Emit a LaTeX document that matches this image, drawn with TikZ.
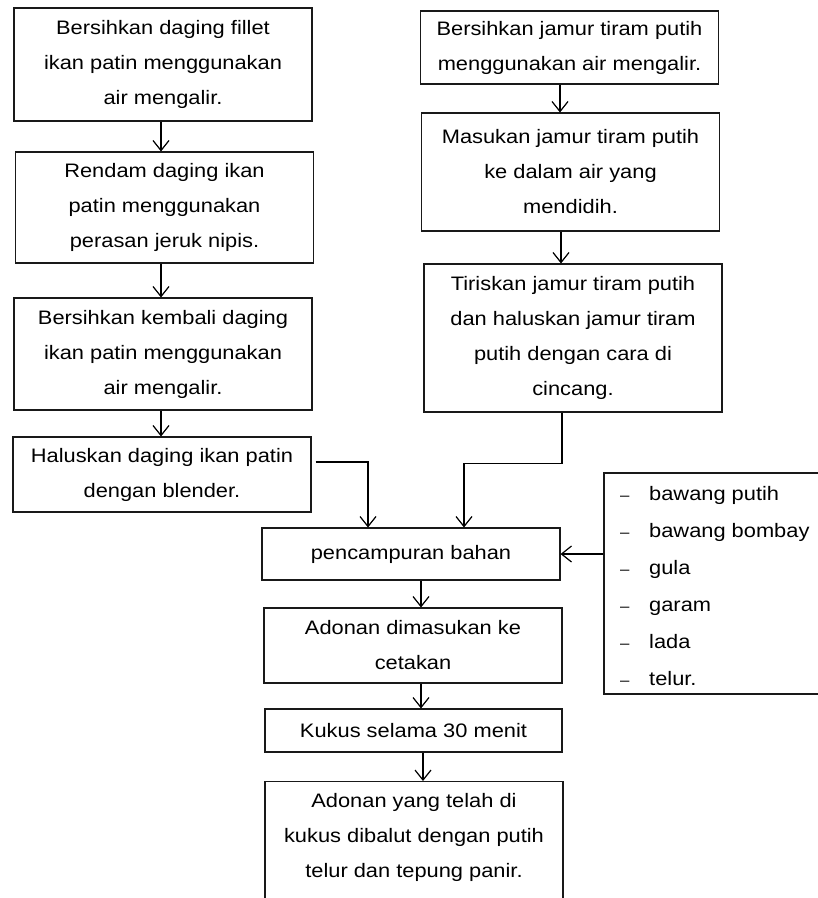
\documentclass[tikz,border=0pt]{standalone}
\usepackage{fontspec}
\setmainfont[FakeStretch=1.12]{Liberation Sans}
\usetikzlibrary{arrows.meta}
\begin{document}
\begin{tikzpicture}[x=1pt,y=-1pt,
  box/.style={draw=black!90, line width=1.1pt, inner sep=0pt, align=center,
    font=\fontsize{19.5}{35}\selectfont, minimum width=298pt},
  txt/.style={inner sep=0pt, align=center, font=\fontsize{19.5}{35}\selectfont},
  listtxt/.style={inner sep=0pt, align=left, font=\fontsize{19.5}{37}\selectfont},
  arr/.style={-{Straight Barb[length=10pt,width=16pt]}, line width=1.2pt},
  ln/.style={line width=1.2pt}]
\useasboundingbox (0,0) rectangle (818,898);
\clip (0,0) rectangle (818,898);

% left column
\node[box, minimum height=113pt] (L1) at (163,64.5) {Bersihkan daging fillet\\ikan patin menggunakan\\air mengalir.};
\node[box, minimum height=111pt] (L2) at (164.5,207.5) {Rendam daging ikan\\patin menggunakan\\perasan jeruk nipis.};
\node[box, minimum height=112pt] (L3) at (163,354) {Bersihkan kembali daging\\ikan patin menggunakan\\air mengalir.};
\node[box, minimum height=75pt] (L4) at (162,474.5) {Haluskan daging ikan patin\\dengan blender.};

% right column
\node[box, minimum height=73pt] (R1) at (569.5,47.5) {Bersihkan jamur tiram putih\\menggunakan air mengalir.};
\node[box, minimum height=118pt] (R2) at (570.5,172) {Masukan jamur tiram putih\\ke dalam air yang\\mendidih.};
\node[box, minimum height=148pt] (R3) at (573,338) {Tiriskan jamur tiram putih\\dan haluskan jamur tiram\\putih dengan cara di\\cincang.};

% centre column
\node[box, minimum height=52pt] (P) at (411,554) {pencampuran bahan};
\node[box, minimum height=75pt] (A) at (413,645.5) {Adonan dimasukan ke\\cetakan};
\node[box, minimum height=43pt, minimum width=297pt] (K) at (413.5,730.5) {Kukus selama 30 menit};
\node[box, minimum height=130pt, anchor=north] (F) at (414,781) {};
\node[txt] (Ftext) at (414,837) {Adonan yang telah di\\kukus dibalut dengan putih\\telur dan tepung panir.};

% ingredient list
\node[draw=black!90, line width=1.1pt, minimum width=226pt, minimum height=221pt, inner sep=0pt] (LB) at (717,583.5) {};
\node[listtxt, anchor=west] (items) at (620,586.5) {%
\makebox[29pt][l]{\fontsize{15}{37}\selectfont –}bawang putih\\
\makebox[29pt][l]{\fontsize{15}{37}\selectfont –}bawang bombay\\
\makebox[29pt][l]{\fontsize{15}{37}\selectfont –}gula\\
\makebox[29pt][l]{\fontsize{15}{37}\selectfont –}garam\\
\makebox[29pt][l]{\fontsize{15}{37}\selectfont –}lada\\
\makebox[29pt][l]{\fontsize{15}{37}\selectfont –}telur.};

% connectors
\draw[arr] ([xshift=-2pt]L1.south) -- ([xshift=-2pt]L1.south |- L2.north);
\draw[arr] ([xshift=-3.5pt]L2.south) -- ([xshift=-3.5pt]L2.south |- L3.north);
\draw[arr] ([xshift=-2pt]L3.south) -- ([xshift=-2pt]L3.south |- L4.north);
\draw[arr] ([xshift=-9.5pt]R1.south) -- ([xshift=-9.5pt]R1.south |- R2.north);
\draw[arr] ([xshift=-9.5pt]R2.south) -- ([xshift=-9.5pt]R2.south |- R3.north);
\draw[arr] ([xshift=4pt,yshift=12.5pt]L4.east) -| ([xshift=-43pt]P.north);
\draw[arr] ([xshift=-11pt]R3.south) -- ++(0,51) -| ([xshift=53pt]P.north);
\draw[arr] (LB.west |- P.east) -- (P.east);
\draw[arr] ([xshift=10pt]P.south) -- ([xshift=10pt]P.south |- A.north);
\draw[arr] ([xshift=8pt]A.south) -- ([xshift=8pt]A.south |- K.north);
\draw[arr] ([xshift=9.5pt]K.south) -- ([xshift=9.5pt]K.south |- F.north);
\end{tikzpicture}
\end{document}
